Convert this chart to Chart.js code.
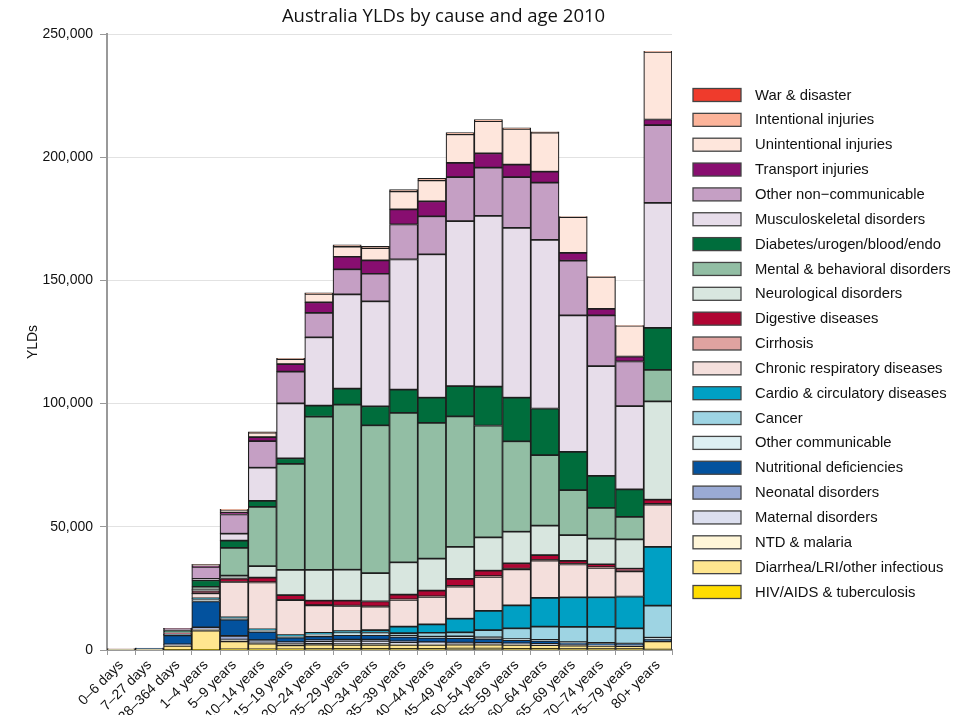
<!DOCTYPE html>
<html>
<head>
<meta charset="utf-8">
<script src="https://cdn.jsdelivr.net/npm/chart.js@4"></script>
<style>
html,body{margin:0;padding:0;background:#fff;}
#wrap{width:965px;height:715px;}
</style>
</head>
<body>
<div id="wrap"><canvas id="c" width="965" height="715"></canvas></div>
<script>
// Categories (age groups)
const categories = ["0–6 days","7–27 days","28–364 days","1–4 years","5–9 years","10–14 years","15–19 years","20–24 years","25–29 years","30–34 years","35–39 years","40–44 years","45–49 years","50–54 years","55–59 years","60–64 years","65–69 years","70–74 years","75–79 years","80+ years"];

// Series values (YLDs), one array per cause, stacked bottom to top
const hivTb          = [0,0,10,100,300,300,300,400,500,500,500,500,600,600,500,500,400,400,400,200];
const diarrheaLri    = [50,100,1700,7800,3200,2300,1600,1800,1600,1600,1600,1600,1600,1600,1600,1500,1400,1300,1200,3300];
const ntdMalaria     = [0,0,100,500,500,300,300,300,300,300,200,200,200,200,200,100,100,100,100,100];
const maternal       = [0,0,0,0,200,300,500,1000,1300,1300,800,600,300,200,100,100,0,0,0,0];
const neonatal       = [200,350,500,800,1500,800,500,500,500,500,400,300,300,300,300,300,200,200,100,0];
const nutritional    = [30,100,3600,10500,6600,3400,1800,1500,1800,1800,1800,1700,1800,1600,1300,1200,800,600,500,800];
const otherComm      = [20,40,300,800,500,500,400,600,500,500,500,500,700,600,400,400,300,300,300,600];
const cancer         = [10,10,50,300,200,300,300,400,500,600,1000,1600,1700,3000,4400,5400,6200,6500,6200,13000];
const cardio         = [10,10,50,200,200,200,300,500,700,1000,2700,3400,5500,7800,9300,11700,12000,12000,12900,23900];
const chronicResp    = [10,20,300,2000,14400,19000,14200,11100,10200,9500,10800,11200,13000,13800,14600,15100,13300,11900,10200,17100];
const cirrhosis      = [0,0,0,100,100,100,100,100,100,100,200,200,300,300,300,300,300,300,200,300];
const digestive      = [10,10,100,900,1300,1900,2000,1800,2000,2000,2000,2300,2900,2200,2200,1900,1200,1200,900,1700];
const neurological   = [20,30,300,600,1200,4600,10200,12500,12600,11500,13100,13000,13000,13500,12800,12000,10400,10400,11900,39900];
const mental         = [0,0,100,1000,11200,24100,43000,62200,67000,60000,60600,55100,52900,45400,36700,28600,18300,12500,9100,12800];
const diabetes       = [20,40,600,2700,3000,2400,2300,4500,6500,7700,9500,10200,12300,15800,17700,18900,15500,13000,11200,17000];
const musculo        = [0,0,100,600,2800,13500,22300,27700,38200,42600,52800,58200,67000,69300,68900,68400,55400,44500,33800,50800];
const otherNonComm   = [40,80,800,4800,7800,10800,12900,9900,10200,11200,14200,15400,17800,19600,20600,23300,22200,20600,18100,31500];
const transport      = [0,0,10,400,900,1600,3000,4300,5100,5400,6100,6100,5800,5800,5100,4400,3200,2600,2000,2300];
const unintentional  = [10,20,200,600,900,1800,2000,3400,4100,5000,7300,8500,11600,13000,14500,15900,14500,13000,12500,27400];
const intentional    = [0,0,10,50,300,300,400,500,700,700,800,800,700,700,400,300,200,200,100,300];
const warDisaster    = [0,0,0,0,0,0,0,0,0,0,0,0,0,0,0,0,0,0,0,0];

// Cause names (bottom to top of the stack)
const causeNames = ["HIV/AIDS & tuberculosis","Diarrhea/LRI/other infectious","NTD & malaria","Maternal disorders","Neonatal disorders","Nutritional deficiencies","Other communicable","Cancer","Cardio & circulatory diseases","Chronic respiratory diseases","Cirrhosis","Digestive diseases","Neurological disorders","Mental & behavioral disorders","Diabetes/urogen/blood/endo","Musculoskeletal disorders","Other non−communicable","Transport injuries","Unintentional injuries","Intentional injuries","War & disaster"];
const causeColors = ["#FFDD00","#FFE68F","#FFF6D8","#DCDFEF","#9AAAD4","#03529E","#DDEFF2","#9ED4E3","#00A0C4","#F4DFDC","#E0A3A0","#B00533","#D8E6DF","#92BEA4","#006D3C","#E7DDEA","#C59FC4","#880E70","#FEE6DC","#FCB49A","#EF3B2C"];
const seriesValues = [hivTb,diarrheaLri,ntdMalaria,maternal,neonatal,nutritional,otherComm,cancer,cardio,chronicResp,cirrhosis,digestive,neurological,mental,diabetes,musculo,otherNonComm,transport,unintentional,intentional,warDisaster];

// Y tick values
const yTicks = [0,50000,100000,150000,200000,250000];

const datasets = causeNames.map((name,i)=>({
  label: name,
  data: seriesValues[i],
  backgroundColor: causeColors[i],
  borderColor: '#1e1e1e',
  borderWidth: 1.2,
  borderSkipped: false,
  barPercentage: 1,
  categoryPercentage: 1
}));

const sans = '"Liberation Sans", Arial, sans-serif';

// Legend drawn to the right of the plot, last series on top
const sideLegend = {
  id: 'sideLegend',
  afterDraw(chart) {
    const ctx = chart.ctx, area = chart.chartArea;
    const items = chart.data.datasets.slice().reverse();
    const boxX = area.right + 21, boxW = 48, boxH = 13, textX = boxX + 62, step = 24.85;
    const midY = (area.top + area.bottom) / 2 + 1.5;
    const n = items.length;
    ctx.save();
    ctx.font = '14.8px ' + sans;
    ctx.textBaseline = 'middle';
    ctx.textAlign = 'left';
    items.forEach((d, i) => {
      const y = midY + (i - (n - 1) / 2) * step;
      ctx.fillStyle = d.backgroundColor;
      ctx.fillRect(boxX, y - boxH / 2, boxW, boxH);
      ctx.strokeStyle = '#444';
      ctx.lineWidth = 1.3;
      ctx.strokeRect(boxX, y - boxH / 2, boxW, boxH);
      ctx.fillStyle = '#111';
      ctx.fillText(d.label, textX, y + 0.5);
    });
    ctx.restore();
  }
};

new Chart(document.getElementById('c'), {
  type: 'bar',
  data: { labels: categories, datasets: datasets },
  plugins: [sideLegend],
  options: {
    responsive: false,
    animation: false,
    layout: { padding: { left: 0, right: 78, top: 0, bottom: 0 } },
    plugins: {
      title: {
        display: true,
        text: 'Australia YLDs by cause and age 2010',
        font: { family: 'Open Sans', size: 18.5, weight: 'normal' },
        color: '#111',
        padding: { top: 6, bottom: 5.8 }
      },
      legend: { display: false },
      tooltip: { enabled: false }
    },
    scales: {
      x: {
        stacked: true,
        grid: { display: true, drawOnChartArea: false, tickLength: 5, color: '#999' },
        border: { color: '#999', width: 2 },
        ticks: { minRotation: 45, maxRotation: 45, autoSkip: false, font: { family: sans, size: 14 }, color: '#111', padding: 2 },
        afterFit: s => { s.height = 65; }
      },
      y: {
        stacked: true,
        min: 0,
        max: 250000,
        afterBuildTicks: s => { s.ticks = yTicks.map(v => ({ value: v })); },
        ticks: { callback: v => Number(v).toLocaleString('en-US'), font: { family: sans, size: 14 }, color: '#111', padding: 7 },
        grid: { color: '#e2e2e2', tickLength: 7, tickColor: '#999' },
        border: { color: '#999', width: 2 },
        title: { display: true, text: 'YLDs', font: { family: sans, size: 14 }, color: '#111', padding: { top: 25, bottom: 0 } },
        afterFit: s => { s.width = 107; }
      },
      yR: {
        type: 'linear',
        position: 'right',
        display: true,
        grid: { display: false, drawTicks: false },
        ticks: { display: false },
        border: { display: false },
        afterFit: s => { s.width = 215; }
      }
    }
  }
});
</script>
</body>
</html>
